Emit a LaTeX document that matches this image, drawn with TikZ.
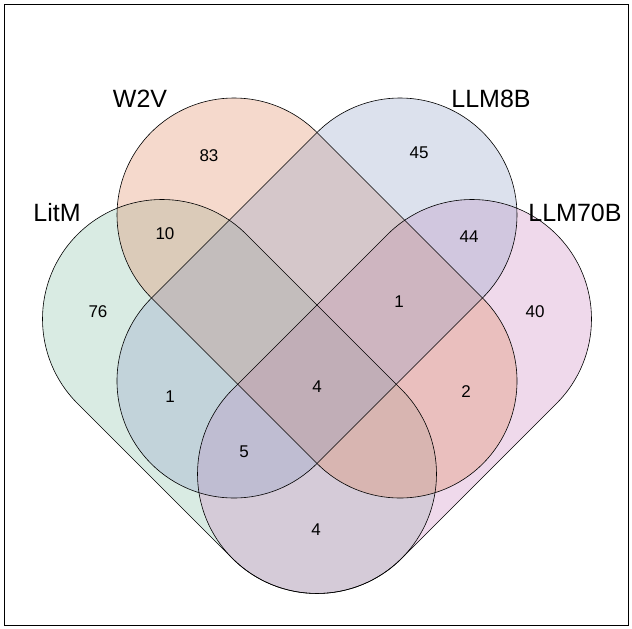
\documentclass[tikz,border=0pt]{standalone}
\usepackage{fontspec}
\setmainfont{Liberation Sans}
\definecolor{cG}{RGB}{132,192,165}
\definecolor{cO}{RGB}{225,132,88}
\definecolor{cB}{RGB}{142,158,198}
\definecolor{cP}{RGB}{205,132,192}
\newcommand\stadpath[6]{\path[#6,shift={(#1,#2)},rotate=#3,rounded corners=#5pt] (-#5,-#5) rectangle (#4+#5,#5);}
\tikzset{setfill/.style={fill=#1,fill opacity=0.3},
  setline/.style={draw=black,line width=0.6pt},
  setlabel/.style={font=\fontsize{25}{25}\selectfont},
  cnt/.style={font=\fontsize{17}{17}\selectfont}}
\begin{document}
\begin{tikzpicture}[x=1pt,y=1pt]
\useasboundingbox (0,0) rectangle (632,629);
\fill[white] (0,0) rectangle (632,629);
\draw[line width=0.6pt] (4,4) rectangle (628,625);
% fills
\stadpath{162}{310}{-45}{219.2}{119.5}{setfill=cG}
\stadpath{472}{310}{-135}{219.2}{119.5}{setfill=cP}
\stadpath{234}{414}{-45}{234.8}{117}{setfill=cO}
\stadpath{400}{414}{-135}{234.8}{117}{setfill=cB}
% outlines
\stadpath{162}{310}{-45}{219.2}{119.5}{setline}
\stadpath{472}{310}{-135}{219.2}{119.5}{setline}
\stadpath{234}{414}{-45}{234.8}{117}{setline}
\stadpath{400}{414}{-135}{234.8}{117}{setline}
% labels
\node[setlabel] (lw) at (140,530) {W2V};
\node[setlabel] (lb) at (491,530) {LLM8B};
\node[setlabel] (ll) at (57,416) {LitM};
\node[setlabel] (lp) at (575,416) {LLM70B};
% counts
\node[cnt] (n1) at (209,473) {83};
\node[cnt] (n2) at (419,476) {45};
\node[cnt] (n3) at (165,395) {10};
\node[cnt] (n4) at (469,392) {44};
\node[cnt] (n5) at (98,317) {76};
\node[cnt] (n6) at (399,327) {1};
\node[cnt] (n7) at (535,317) {40};
\node[cnt] (n8) at (170,232) {1};
\node[cnt] (n9) at (317,242) {4};
\node[cnt] (n10) at (466,237) {2};
\node[cnt] (n11) at (244,177) {5};
\node[cnt] (n12) at (316,99) {4};
\end{tikzpicture}
\end{document}
